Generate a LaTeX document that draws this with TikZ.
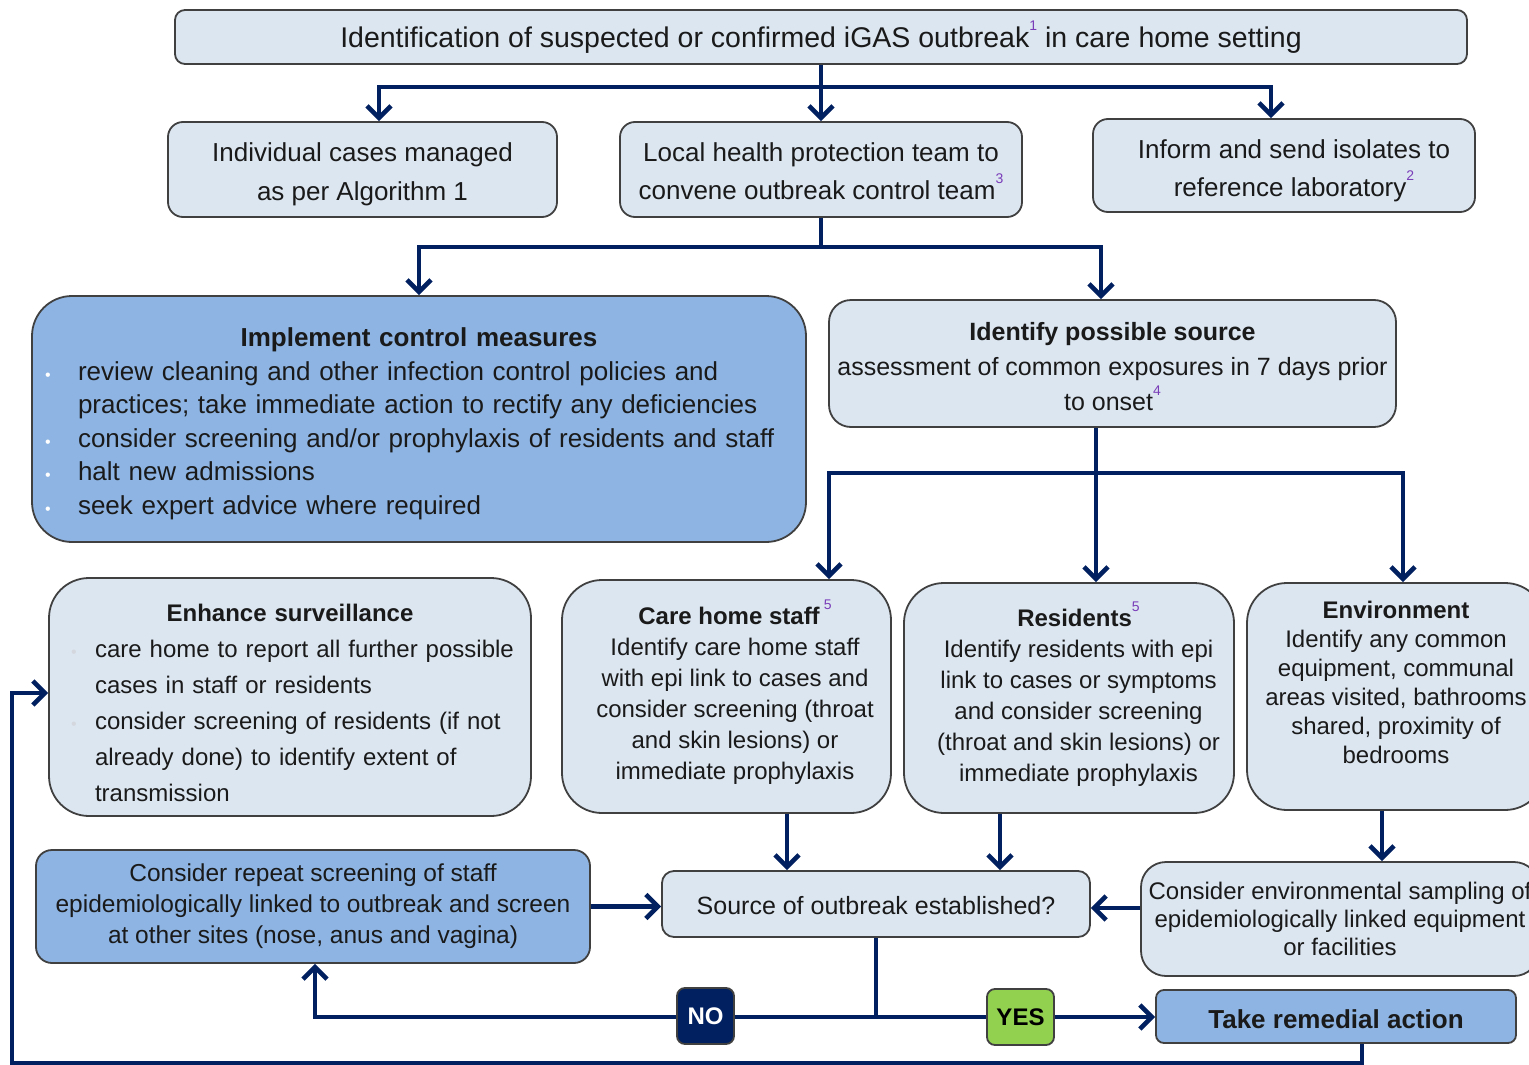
\documentclass[tikz,border=0pt]{standalone}
\usepackage{fontspec}
\setmainfont{Liberation Sans}
\usetikzlibrary{arrows.meta,calc}
\hyphenpenalty=10000
\exhyphenpenalty=10000
\definecolor{lightfill}{HTML}{DCE6F1}
\definecolor{darkfill}{HTML}{8DB4E2}
\definecolor{bord}{HTML}{404040}
\definecolor{navy}{HTML}{002060}
\definecolor{purp}{HTML}{7A3DB8}
\definecolor{txt}{HTML}{1A1A1A}
\definecolor{yesg}{HTML}{92D050}
\definecolor{faint}{HTML}{D4D8DE}
\newcommand\sups[1]{\raisebox{0.62em}{\fontsize{14}{14}\selectfont\mdseries\color{purp}#1}}
\newcommand\bul[3]{\par\noindent\hangindent=#1\hangafter=0\llap{\makebox[#1][l]{\hspace{#3}\fontsize{16}{16}\selectfont\color{#2}\textbullet}}}
\newcommand\shiftc[2]{\begin{tabular}{@{\hspace{#1}}c@{}}#2\end{tabular}}
\tikzset{
  lbox/.style={draw=bord, line width=1.8pt, fill=lightfill, text=txt, align=center, inner sep=0pt},
  dbox/.style={lbox, fill=darkfill},
  conn/.style={draw=navy, line width=4.6pt},
  arr/.style={conn, -{Straight Barb[length=12pt,width=24pt]}},
}
\begin{document}
\begin{tikzpicture}[x=1pt,y=-1pt]
\useasboundingbox (0,0) rectangle (1529,1065);
\clip (0,0) rectangle (1529,1065);

% row 1
\node[lbox, minimum width=1292pt, minimum height=54pt, rounded corners=10pt, font=\fontsize{28.5}{34}\selectfont] (top) at (821,37) {\rule{0pt}{23pt}Identification of suspected or confirmed iGAS outbreak\sups{1} in care home setting};

% row 2
\node[lbox, minimum width=389pt, minimum height=95pt, rounded corners=15pt, font=\fontsize{26}{39}\selectfont] (ind) at (362.5,169.5) {\rule{0pt}{29pt}Individual cases managed\\as per Algorithm 1};
\node[lbox, minimum width=402pt, minimum height=95pt, rounded corners=15pt, font=\fontsize{26}{38}\selectfont] (local) at (821,169.5) {\rule{0pt}{23pt}Local health protection team to\\convene outbreak control team\sups{3}};
\node[lbox, minimum width=382pt, minimum height=93pt, rounded corners=15pt, font=\fontsize{26}{38}\selectfont] (inform) at (1284,165.5) {\shiftc{20pt}{\rule{0pt}{35pt}Inform and send isolates to\\reference laboratory\sups{2}}};

% row 3
\node[dbox, minimum width=774pt, minimum height=246pt, rounded corners=40pt, text width=750pt, align=left, font=\fontsize{26}{33.5}\selectfont] (impl) at (419,419) {{\centering\bfseries\rule{0pt}{28pt}Implement control measures\par}%
\bul{34pt}{white}{1pt}review cleaning and other infection control policies and\newline practices; take immediate action to rectify any deficiencies%
\bul{34pt}{white}{1pt}consider screening and/or prophylaxis of residents and staff%
\bul{34pt}{white}{1pt}halt new admissions%
\bul{34pt}{white}{1pt}seek expert advice where required\par};
\node[lbox, minimum width=567pt, minimum height=127pt, rounded corners=22pt, font=\fontsize{25}{35}\selectfont] (ident) at (1112.5,363.5) {\rule{0pt}{25pt}\textbf{Identify possible source}\\assessment of common exposures in 7 days prior\\to onset\sups{4}};

% row 4
\node[lbox, minimum width=482pt, minimum height=238pt, rounded corners=40pt, text width=460pt, align=left, font=\fontsize{24}{36}\selectfont] (enh) at (290,697) {{\centering\bfseries\rule{0pt}{30pt}Enhance surveillance\par}%
\bul{35pt}{faint}{11pt}care home to report all further possible\newline cases in staff or residents%
\bul{35pt}{faint}{11pt}consider screening of residents (if not\newline already done) to identify extent of\newline transmission\par};
\node[lbox, minimum width=329pt, minimum height=233pt, rounded corners=40pt, font=\fontsize{24}{31}\selectfont] (staff) at (726.5,696.5) {\shiftc{17pt}{\textbf{Care home staff}\,\sups{5}\\Identify care home staff\\with epi link to cases and\\consider screening (throat\\and skin lesions) or\\immediate prophylaxis\rule[-14pt]{0pt}{0pt}}};
\node[lbox, minimum width=330pt, minimum height=230pt, rounded corners=40pt, font=\fontsize{24}{31}\selectfont] (res) at (1069,698) {\shiftc{19pt}{\textbf{Residents}\sups{5}\\Identify residents with epi\\link to cases or symptoms\\and consider screening\\(throat and skin lesions) or\\immediate prophylaxis\rule[-12pt]{0pt}{0pt}}};
\node[lbox, minimum width=298pt, minimum height=227pt, rounded corners=40pt, font=\fontsize{24}{29}\selectfont] (env) at (1396,696.5) {\textbf{Environment}\\Identify any common\\equipment, communal\\areas visited, bathrooms\\shared, proximity of\\bedrooms\\\mbox{}};

% row 5
\node[dbox, minimum width=554pt, minimum height=113pt, rounded corners=16pt, font=\fontsize{24.5}{31}\selectfont] (repeat) at (313,906.5) {Consider repeat screening of staff\\epidemiologically linked to outbreak and screen\\at other sites (nose, anus and vagina)};
\node[lbox, minimum width=428pt, minimum height=66pt, rounded corners=12pt, font=\fontsize{25}{30}\selectfont] (source) at (876,904) {\rule{0pt}{22pt}Source of outbreak established?};
\node[lbox, minimum width=398pt, minimum height=114pt, rounded corners=25pt, font=\fontsize{24}{28}\selectfont] (sampling) at (1340,919) {Consider environmental sampling of\\epidemiologically linked equipment\\or facilities};

% row 6
\node[lbox, fill=navy, text=white, minimum width=57pt, minimum height=56pt, rounded corners=8pt, font=\fontsize{24}{28}\selectfont\bfseries] (no) at (705.5,1016) {NO};
\node[lbox, fill=yesg, text=black, minimum width=67pt, minimum height=56pt, rounded corners=8pt, font=\fontsize{24}{28}\selectfont\bfseries] (yes) at (1020.5,1017) {YES};
\node[dbox, minimum width=360pt, minimum height=53pt, rounded corners=8pt, font=\fontsize{26}{30}\selectfont\bfseries] (take) at (1336,1016.5) {\rule{0pt}{25pt}Take remedial action};

% connectors
\coordinate (j1) at (821,87);
\draw[conn] (top.south) -- (j1);
\draw[arr] (j1) -| ([xshift=16.5pt]ind.north);
\draw[arr] (j1) -- (local.north);
\draw[arr] (j1) -| ([xshift=-13pt]inform.north);

\coordinate (j2) at (821,247);
\draw[conn] (local.south) -- (j2);
\draw[arr] (j2) -| (impl.north);
\draw[arr] (j2) -| ([xshift=-11.5pt]ident.north);

\coordinate (j3) at (1096,473);
\draw[conn] ([xshift=-16.5pt]ident.south) -- (j3);
\draw[arr] (j3) -| ([xshift=102.5pt]staff.north);
\draw[arr] (j3) -- ([xshift=27pt]res.north);
\draw[arr] (j3) -| ([xshift=7pt]env.north);

\draw[arr] ([xshift=60.5pt]staff.south) -- ([xshift=60.5pt]staff.south |- source.north);
\draw[arr] ([xshift=-69pt]res.south) -- ([xshift=-69pt]res.south |- source.north);
\draw[arr] ([xshift=-14pt]env.south) -- ([xshift=-14pt]env.south |- sampling.north);
\draw[arr] ([yshift=11pt]sampling.west) -- ([yshift=11pt]sampling.west -| source.east);
\draw[arr] (repeat.east) -- (repeat.east -| source.west);

\coordinate (j4) at (876,1017);
\draw[conn] (source.south) -- (j4);
\draw[conn] (j4) -- (no.east |- j4);
\draw[arr] (no.west |- j4) -| ([xshift=2pt]repeat.south);
\draw[conn] (j4) -- (yes.west);
\draw[arr] (yes.east) -- (take.west |- yes.east);

\coordinate (j6) at (12,1063);
\draw[arr] ([xshift=26pt]take.south) |- (j6) |- ([yshift=4pt]enh.west);
\end{tikzpicture}
\end{document}
